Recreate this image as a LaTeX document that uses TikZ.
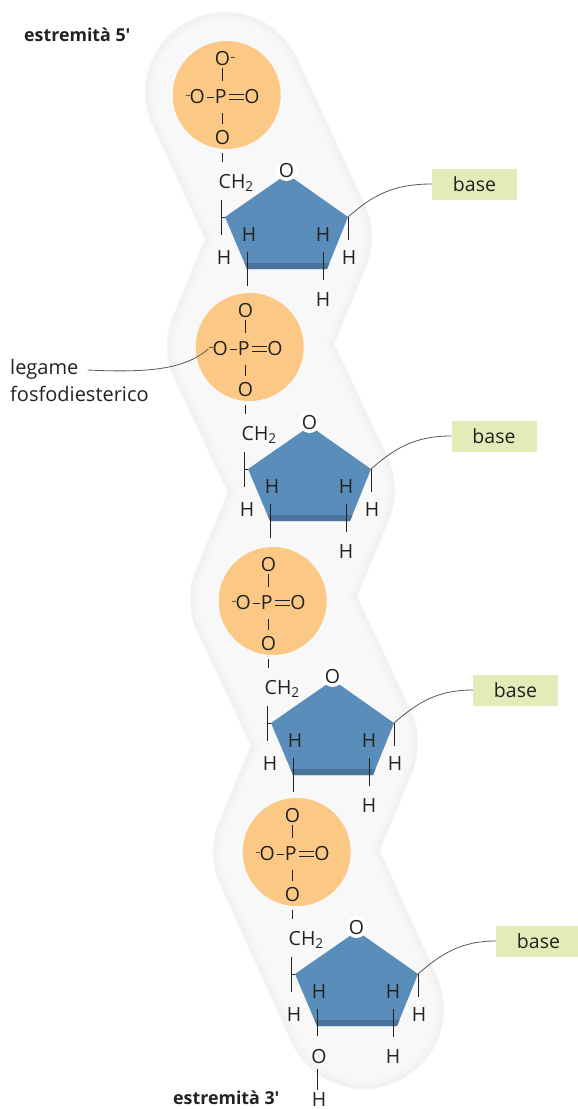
\documentclass[tikz,border=0pt]{standalone}
\usepackage{fontspec}
\setmainfont{Open Sans}
\definecolor{ribA}{HTML}{F4F4F4}
\definecolor{ribB}{HTML}{F1F1F1}
\definecolor{ribC}{HTML}{F5F5F5}
\definecolor{ribD}{HTML}{F8F8F8}
\definecolor{phos}{HTML}{FBC985}
\definecolor{sugar}{HTML}{5A8DB9}
\definecolor{sugarD}{HTML}{4A7399}
\definecolor{basefill}{HTML}{E3EBB9}
\definecolor{ink}{HTML}{222222}
\tikzset{
  atom/.style={inner sep=0pt,text height=12pt,text depth=0pt,font=\fontsize{19.5}{20}\selectfont,text=ink},
  bond/.style={draw=ink,line width=1pt},
  leader/.style={draw=ink!75,line width=0.8pt},
  basebox/.style={fill=basefill,minimum width=85pt,minimum height=31pt,inner sep=0pt,font=\fontsize{19.5}{20}\selectfont,text=ink},
  labeltext/.style={inner sep=0pt,anchor=west,font=\fontsize{20}{22}\selectfont,text=ink},
  endtext/.style={inner sep=0pt,font=\bfseries\fontsize{17.8}{20}\selectfont,text=ink},
  phosball/.style={circle,fill=phos,minimum size=108pt,inner sep=0pt},
  halo/.style={circle,fill=white,minimum size=22pt,inner sep=0pt},
  ribbon/.style={line cap=round,line join=round}
}
\begin{document}
\begin{tikzpicture}[x=1pt,y=-1pt]
\useasboundingbox (0,0) rectangle (578,1109);
\fill[white] (0,0) rectangle (578,1109);
\foreach \w/\c in {160/ribA,157/ribB,152/ribC,144/ribD}{
  \draw[ribbon,line width=\w pt,color=\c] (225,92) -- (292,237) -- (247,346) -- (315,490) -- (270,599) -- (338,743) -- (293,852) -- (364,1009);
}
\foreach \i/\dx/\dy/\bx/\bl in {1/0/0/474.5/286,2/23/252/494/286,3/46/506/515.5/286,4/70/757/538.5/279}{
\begin{scope}[shift={(\dx,\dy)}]
  \node[phosball] (ball\i) at (226.7,95) {};
  % sugar ring
  \coordinate (pl\i) at (225,217);
  \coordinate (pr\i) at (348,217);
  \coordinate (pbl\i) at (247,269);
  \coordinate (pbr\i) at (327,269);
  \coordinate (pt\i) at (287,174);
  \fill[sugar] (pl\i) -- (pt\i) -- (pr\i) -- (pbr\i) -- (pbl\i) -- cycle;
  \fill[sugarD] (244.6,263) -- (329.4,263) -- (pbr\i) -- (pbl\i) -- cycle;
  \node[halo] at (286.5,170) {};
  % atoms
  \node[atom] (Ot\i) at (222.5,59) {O\ifnum\i=1\rlap{\raisebox{5pt}{\fontsize{10}{10}\selectfont\kern0.3pt –}}\fi};
  \node[atom] (P\i) at (220.7,97) {P};
  \node[atom,anchor=east] (Ol\i) at (205,97) {\raisebox{5pt}{\fontsize{10}{10}\selectfont –}\kern-1pt O};
  \node[atom] (Or\i) at (252,97) {O};
  \node[atom] (Ob\i) at (222.5,138) {O};
  \node[atom,anchor=west] (CH\i) at (218.5,182) {CH\textsubscript{2}};
  \node[atom] (Oring\i) at (286.5,171) {O};
  \node[atom] (Hl\i) at (224,258) {H};
  \node[atom] (Hil\i) at (249,235) {H};
  \node[atom] (Hir\i) at (323,235) {H};
  \node[atom] (Hr\i) at (349,258) {H};
  \node[atom] (Hb\i) at (323,300) {H};
  \coordinate (cb\i) at (221.5,182);
  \coordinate (e\i) at (247,\bl);
  \node[basebox] (base\i) at (\bx-\dx,184) {base};
  % bonds
  \draw[bond,shorten <=3pt,shorten >=10pt] (Ot\i.south) -- (Ot\i.south |- P\i.north);
  \draw[bond,shorten <=10pt,shorten >=8pt] (Ob\i.north |- P\i.south) -- (Ob\i.north);
  \draw[bond,shorten <=1.5pt,shorten >=1pt] (Ol\i.east) -- (P\i.west);
  \draw[draw=ink,line width=5.6pt] (P\i.east)++(2,0) -- (Or\i.west);
  \draw[draw=phos,line width=3.8pt] (P\i.east)++(1,0) -- (Or\i.west);
  \draw[bond,shorten <=9pt,shorten >=14pt] (Ob\i.south) -- (Ob\i.south |- CH\i.north);
  \draw[bond,shorten <=12pt,shorten >=17pt] (cb\i |- CH\i.south) -- (cb\i |- Hl\i.north);
  \draw[bond] (cb\i |- pl\i) -- (pl\i);
  \draw[bond,shorten <=11pt] (e\i |- Hil\i.south) -- (e\i);
  \draw[bond,shorten <=11pt,shorten >=14pt] (Hir\i.south) -- (Hb\i.north);
  \draw[bond,shorten >=12pt] (pr\i) -- (pr\i |- Hr\i.north);
  \draw[leader] (pr\i) .. controls (372,196) and (392,184) .. (base\i.west);
\end{scope}
}
\node[labeltext] (leg) at (10,369) {legame};
\node[labeltext] (fos) at (10,394) {fosfodiesterico};
\draw[leader] (leg.east) ++(9,1) .. controls (150,373) and (185,369) .. (Ol2.west);
\node[endtext,anchor=west] (e5) at (24,35) {estremità 5′};
\node[endtext,anchor=west] (e3) at (173,1098) {estremità 3′};
\node[atom] (O3) at (319,1057) {O};
\node[atom] (H3) at (319,1100) {H};
\draw[bond,shorten <=6pt,shorten >=4pt] (O3.south -| e4) -- (H3.north -| e4);
\end{tikzpicture}
\end{document}
